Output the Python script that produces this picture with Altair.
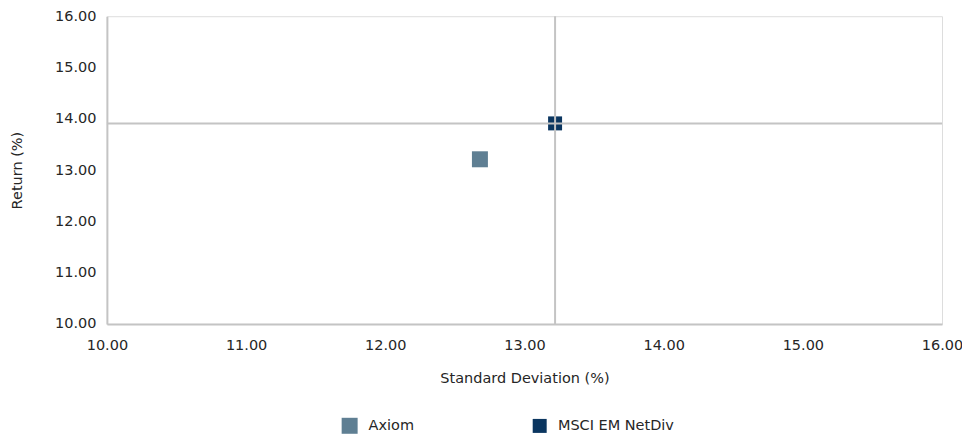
import altair as alt
import pandas as pd

names = ["Axiom", "MSCI EM NetDiv"]
std_dev = [12.68, 13.22]
returns = [13.21, 13.91]
colors = ["#5F7F93", "#0B3660"]
marker_px = [256, 196]
ticks = [10, 11, 12, 13, 14, 15, 16]

df = pd.DataFrame({"name": names, "sd": std_dev, "ret": returns})
bench = df[df["name"] == "MSCI EM NetDiv"]

FONT = "DejaVu Sans"
TXT = "#262626"
GRID = "#c4c4c4"

xs = alt.Scale(domain=[10, 16], nice=False, zero=False)
ys = alt.Scale(domain=[10, 16], nice=False, zero=False)

axis_common = dict(
    values=ticks, format=".2f", grid=False, ticks=False, labelFlush=False,
    domain=True, domainColor=GRID, domainWidth=2,
    labelFontSize=14.5, titleFontSize=14.5, titleFontWeight="normal",
    labelColor=TXT, titleColor=TXT, labelFont=FONT, titleFont=FONT,
)

points = alt.Chart(df).mark_square(opacity=1).encode(
    x=alt.X("sd:Q", scale=xs, axis=alt.Axis(
        title="Standard Deviation (%)", labelPadding=15, titlePadding=19, **axis_common)),
    y=alt.Y("ret:Q", scale=ys, axis=alt.Axis(
        title="Return (%)", labelPadding=11, titlePadding=30, **axis_common)),
    color=alt.Color("name:N", scale=alt.Scale(domain=names, range=colors),
                    legend=alt.Legend(
                        title=None, orient="none", legendX=235, legendY=402,
                        direction="horizontal", symbolType="square", symbolSize=196,
                        symbolStrokeWidth=0, labelOffset=11, columnPadding=118,
                        labelFontSize=14.5, labelFont=FONT, labelColor=TXT)),
    size=alt.Size("name:N", scale=alt.Scale(domain=names, range=marker_px), legend=None),
)

vline = alt.Chart(bench).mark_rule(color=GRID, strokeWidth=2).encode(x=alt.X("sd:Q", scale=xs))
hline = alt.Chart(bench).mark_rule(color=GRID, strokeWidth=2).encode(y=alt.Y("ret:Q", scale=ys))

chart = alt.layer(points, vline, hline).properties(
    width=836, height=308,
    autosize=alt.AutoSizeParams(type="none"),
    padding={"left": 99, "top": 8, "right": 20, "bottom": 110},
).configure_view(stroke=GRID, strokeWidth=2).configure(background="white")

chart.save("out.html", embed_options={"renderer": "svg", "actions": False})
